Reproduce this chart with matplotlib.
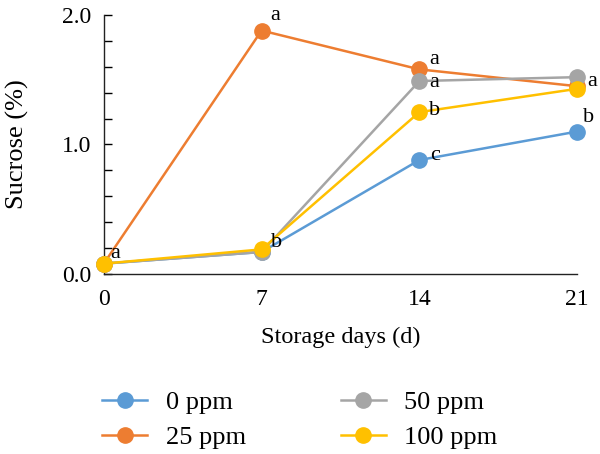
import matplotlib
matplotlib.use("Agg")
import matplotlib.pyplot as plt
from matplotlib.ticker import MultipleLocator

plt.rcParams['font.family'] = ['Liberation Serif', 'DejaVu Serif']

days = [0, 7, 14, 21]
series_names = ["0 ppm", "25 ppm", "50 ppm", "100 ppm"]
ppm0 = [0.08, 0.17, 0.88, 1.10]
ppm25 = [0.08, 1.88, 1.58, 1.45]
ppm50 = [0.08, 0.17, 1.49, 1.52]
ppm100 = [0.08, 0.19, 1.25, 1.43]
colors = ["#5B9BD5", "#ED7D31", "#A5A5A5", "#FFC000"]

# significance letters: (day, value, text, dx, dy) offsets in points
letters = [
    (0, ppm100[0], "a", 8, 7),
    (7, ppm25[1], "a", 10, 11),
    (7, ppm100[1], "b", 11, 5),
    (14, ppm25[2], "a", 11, 7),
    (14, ppm50[2], "a", 11, -1),
    (14, ppm100[2], "b", 11, 1),
    (14, ppm0[2], "c", 11, 3),
    (21, ppm50[3], "a", 11, -3),
    (21, ppm0[3], "b", 8, 10),
]

fig = plt.figure(figsize=(6, 4.54), dpi=100)
ax = fig.add_axes([0.173, 0.3965, 0.789, 0.5705])

data = [ppm0, ppm25, ppm50, ppm100]
draw_order = [0, 2, 1, 3]
handles = {}
for i in draw_order:
    h, = ax.plot(days, data[i], color=colors[i], lw=1.8, marker='o',
                 markersize=11, label=series_names[i], clip_on=False, zorder=3 + i)
    handles[i] = h

for d, v, t, dx, dy in letters:
    ax.annotate(t, (d, v), xytext=(dx, dy), textcoords='offset points',
                fontsize=16, ha='center', va='center', zorder=10)

ax.set_xlim(0, 21)
ax.set_ylim(0, 2.0)
ax.set_xticks(days)
ax.set_xticklabels([str(d) for d in days])
ax.yaxis.set_major_locator(MultipleLocator(1.0))
ax.yaxis.set_minor_locator(MultipleLocator(0.2))
ax.yaxis.set_major_formatter(matplotlib.ticker.FormatStrFormatter('%.1f'))
ax.tick_params(axis='y', which='both', direction='in', length=6, width=1,
               labelsize=17, pad=9)
ax.tick_params(axis='x', length=0, labelsize=17, pad=11)
for s in ['top', 'right']:
    ax.spines[s].set_visible(False)
for s in ['left', 'bottom']:
    ax.spines[s].set_linewidth(1.0)
    ax.spines[s].set_color('#222222')

ax.set_xlabel("Storage days (d)", fontsize=17.5, labelpad=12)
ax.set_ylabel("Sucrose (%)", fontsize=19, labelpad=24)

fig.legend([handles[i] for i in range(4)], series_names, ncol=2,
           loc='center', bbox_to_anchor=(0.5, 0.075), frameon=False,
           fontsize=19, handlelength=1.7, columnspacing=3.6,
           handletextpad=0.7, labelspacing=0.45, markerscale=1.0)

fig.savefig("out.png", dpi=100)
